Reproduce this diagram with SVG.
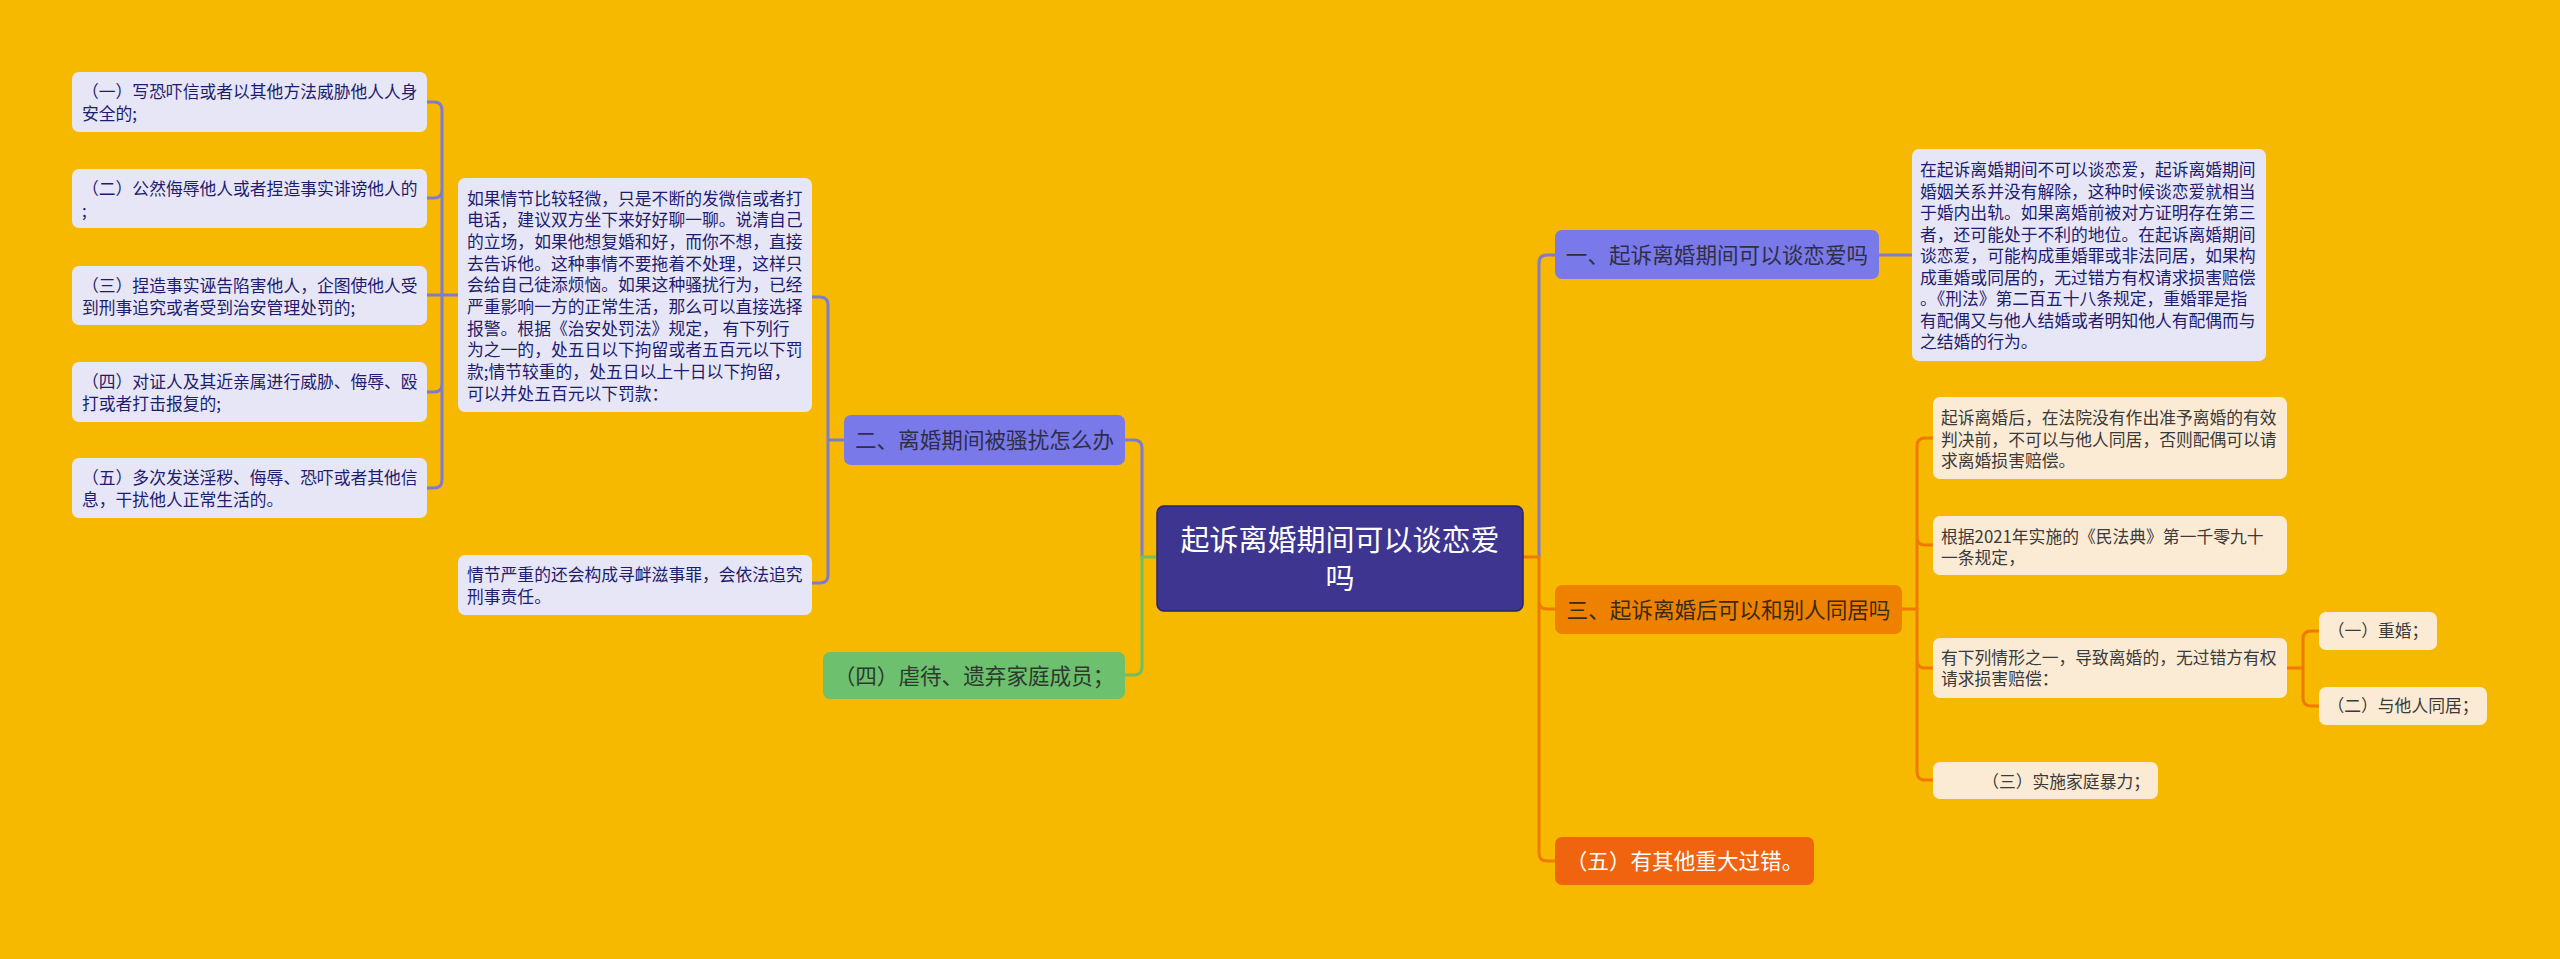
<svg xmlns="http://www.w3.org/2000/svg" width="2560" height="959" viewBox="0 0 2560 959">
<style>
text{font-family:"Noto Sans CJK SC","Noto Sans",sans-serif}
.lp{fill:#E7E6F7}
.lt{font-size:16.8px;fill:#1E1C6E}
.pk{fill:#FCEBD4}
.pt{font-size:16.8px;fill:#3A3A3A}
.n{font-size:21.6px}
.cp{fill:none;stroke:#7E7CCB;stroke-width:3}
.co{fill:none;stroke:#EE7A00;stroke-width:3}
.cg{fill:none;stroke:#72BE5E;stroke-width:3}
</style>
<rect width="2560" height="959" fill="#F6B900"/>
<g id="connectors">
<path class="cp" d="M458,295 H442 M442,295 V110 Q442,102 434,102 H427 M442,295 V190 Q442,198 434,198 H427 M442,295 H427 M442,295 V384 Q442,392 434,392 H427 M442,295 V480 Q442,488 434,488 H427"/>
<path class="cp" d="M812,297 H820 Q828,297 828,305 V575 Q828,583 820,583 H812 M828,440 H844"/>
<path class="cp" d="M1142,557 V448 Q1142,440 1134,440 H1125"/>
<path class="cg" d="M1157,557 H1142 V667 Q1142,675 1134,675 H1125"/>
<path class="cp" d="M1539,557 V263 Q1539,255 1547,255 H1555 M1879,255 H1912"/>
<path class="co" d="M1523,557 H1539 V853 Q1539,861 1547,861 H1555 M1539,601 Q1539,609 1547,609 H1555"/>
<path class="co" d="M1902,609 H1917 M1933,438 H1925 Q1917,438 1917,446 V772 Q1917,780 1925,780 H1933 M1917,537 Q1917,545 1925,545 H1933 M1917,660 Q1917,668 1925,668 H1933"/>
<path class="co" d="M2287,668 H2303 M2319,631 H2311 Q2303,631 2303,639 V698 Q2303,706 2311,706 H2319"/>
</g>
<g id="center">
<rect x="1157" y="506" width="366" height="105" rx="7" fill="#3D3590" stroke="#2A2368" stroke-width="1.5"/>
<text x="1340" y="551" font-size="29" fill="#FFFFFF" text-anchor="middle">起诉离婚期间可以谈恋爱</text>
<text x="1340" y="589" font-size="29" fill="#FFFFFF" text-anchor="middle">吗</text>
</g>
<g id="n1">
<rect x="1555" y="230" width="324" height="49" rx="7" fill="#7A79E9"/>
<text class="n" x="1717" y="263" fill="#2E2E48" text-anchor="middle">一、起诉离婚期间可以谈恋爱吗</text>
</g>
<g id="n1a">
<rect class="lp" x="1912" y="149" width="354" height="212" rx="7"/>
<text class="lt"><tspan x="1920" y="176.4">在起诉离婚期间不可以谈恋爱，起诉离婚期间</tspan><tspan x="1920" y="197.9">婚姻关系并没有解除，这种时候谈恋爱就相当</tspan><tspan x="1920" y="219.3">于婚内出轨。如果离婚前被对方证明存在第三</tspan><tspan x="1920" y="240.8">者，还可能处于不利的地位。在起诉离婚期间</tspan><tspan x="1920" y="262.2">谈恋爱，可能构成重婚罪或非法同居，如果构</tspan><tspan x="1920" y="283.7">成重婚或同居的，无过错方有权请求损害赔偿</tspan><tspan x="1920" y="305.2">。《刑法》第二百五十八条规定，重婚罪是指</tspan><tspan x="1920" y="326.6">有配偶又与他人结婚或者明知他人有配偶而与</tspan><tspan x="1920" y="348.1">之结婚的行为。</tspan></text>
</g>
<g id="n2">
<rect x="844" y="415" width="281" height="50" rx="7" fill="#7A79E9"/>
<text class="n" x="984.5" y="448.2" fill="#2E2E48" text-anchor="middle">二、离婚期间被骚扰怎么办</text>
</g>
<g id="n2a">
<rect class="lp" x="458" y="178" width="354" height="234" rx="7"/>
<text class="lt"><tspan x="467" y="204.7">如果情节比较轻微，只是不断的发微信或者打</tspan><tspan x="467" y="226.4">电话，建议双方坐下来好好聊一聊。说清自己</tspan><tspan x="467" y="248.1">的立场，如果他想复婚和好，而你不想，直接</tspan><tspan x="467" y="269.7">去告诉他。这种事情不要拖着不处理，这样只</tspan><tspan x="467" y="291.4">会给自己徒添烦恼。如果这种骚扰行为，已经</tspan><tspan x="467" y="313.1">严重影响一方的正常生活，那么可以直接选择</tspan><tspan x="467" y="334.7">报警。根据《治安处罚法》规定， 有下列行</tspan><tspan x="467" y="356.4">为之一的，处五日以下拘留或者五百元以下罚</tspan><tspan x="467" y="378.1">款;情节较重的，处五日以上十日以下拘留，</tspan><tspan x="467" y="399.7">可以并处五百元以下罚款：</tspan></text>
</g>
<g id="n2b">
<rect class="lp" x="458" y="555" width="354" height="60" rx="7"/>
<text class="lt"><tspan x="467" y="581.4">情节严重的还会构成寻衅滋事罪，会依法追究</tspan><tspan x="467" y="603.1">刑事责任。</tspan></text>
</g>
<g id="l1">
<rect class="lp" x="72" y="72" width="355" height="60" rx="7"/>
<text class="lt"><tspan x="82" y="98.4">（一）写恐吓信或者以其他方法威胁他人人身</tspan><tspan x="82" y="120.1">安全的;</tspan></text>
</g>
<g id="l2">
<rect class="lp" x="72" y="169" width="355" height="59" rx="7"/>
<text class="lt"><tspan x="82" y="195.4">（二）公然侮辱他人或者捏造事实诽谤他人的</tspan><tspan x="82" y="217.1">;</tspan></text>
</g>
<g id="l3">
<rect class="lp" x="72" y="266" width="355" height="59" rx="7"/>
<text class="lt"><tspan x="82" y="292.4">（三）捏造事实诬告陷害他人，企图使他人受</tspan><tspan x="82" y="314.1">到刑事追究或者受到治安管理处罚的;</tspan></text>
</g>
<g id="l4">
<rect class="lp" x="72" y="362" width="355" height="60" rx="7"/>
<text class="lt"><tspan x="82" y="388.4">（四）对证人及其近亲属进行威胁、侮辱、殴</tspan><tspan x="82" y="410.1">打或者打击报复的;</tspan></text>
</g>
<g id="l5">
<rect class="lp" x="72" y="458" width="355" height="60" rx="7"/>
<text class="lt"><tspan x="82" y="484.4">（五）多次发送淫秽、侮辱、恐吓或者其他信</tspan><tspan x="82" y="506.1">息，干扰他人正常生活的。</tspan></text>
</g>
<g id="n4">
<rect x="823" y="652" width="302" height="47" rx="7" fill="#6CC06E"/>
<text class="n" x="974" y="684" fill="#2E3A2E" text-anchor="middle">（四）虐待、遗弃家庭成员；</text>
</g>
<g id="n3">
<rect x="1555" y="585" width="347" height="49" rx="7" fill="#EE8200"/>
<text class="n" x="1728.5" y="618" fill="#3A2A14" text-anchor="middle">三、起诉离婚后可以和别人同居吗</text>
</g>
<g id="n3a">
<rect class="pk" x="1933" y="397" width="354" height="82" rx="7"/>
<text class="pt"><tspan x="1941" y="424.4">起诉离婚后，在法院没有作出准予离婚的有效</tspan><tspan x="1941" y="446.1">判决前，不可以与他人同居，否则配偶可以请</tspan><tspan x="1941" y="467.4">求离婚损害赔偿。</tspan></text>
</g>
<g id="n3b">
<rect class="pk" x="1933" y="516" width="354" height="59" rx="7"/>
<text class="pt"><tspan x="1941" y="543.4">根据2021年实施的《民法典》第一千零九十</tspan><tspan x="1941" y="563.7">一条规定，</tspan></text>
</g>
<g id="n3c">
<rect class="pk" x="1933" y="638" width="354" height="60" rx="7"/>
<text class="pt"><tspan x="1941" y="664.4">有下列情形之一，导致离婚的，无过错方有权</tspan><tspan x="1941" y="685.4">请求损害赔偿：</tspan></text>
</g>
<g id="n3c1">
<rect class="pk" x="2319" y="612" width="118" height="38" rx="7"/>
<text class="pt" x="2378" y="637.4" text-anchor="middle">（一）重婚；</text>
</g>
<g id="n3c2">
<rect class="pk" x="2319" y="687" width="168" height="38" rx="7"/>
<text class="pt" x="2403" y="712.4" text-anchor="middle">（二）与他人同居；</text>
</g>
<g id="n3d">
<rect class="pk" x="1933" y="762" width="225" height="37" rx="7"/>
<text class="pt" x="2150" y="788.4" text-anchor="end">（三）实施家庭暴力；</text>
</g>
<g id="n5">
<rect x="1555" y="837" width="259" height="48" rx="7" fill="#F0630F"/>
<text class="n" x="1684.5" y="869" fill="#FFFFFF" text-anchor="middle">（五）有其他重大过错。</text>
</g>
</svg>
